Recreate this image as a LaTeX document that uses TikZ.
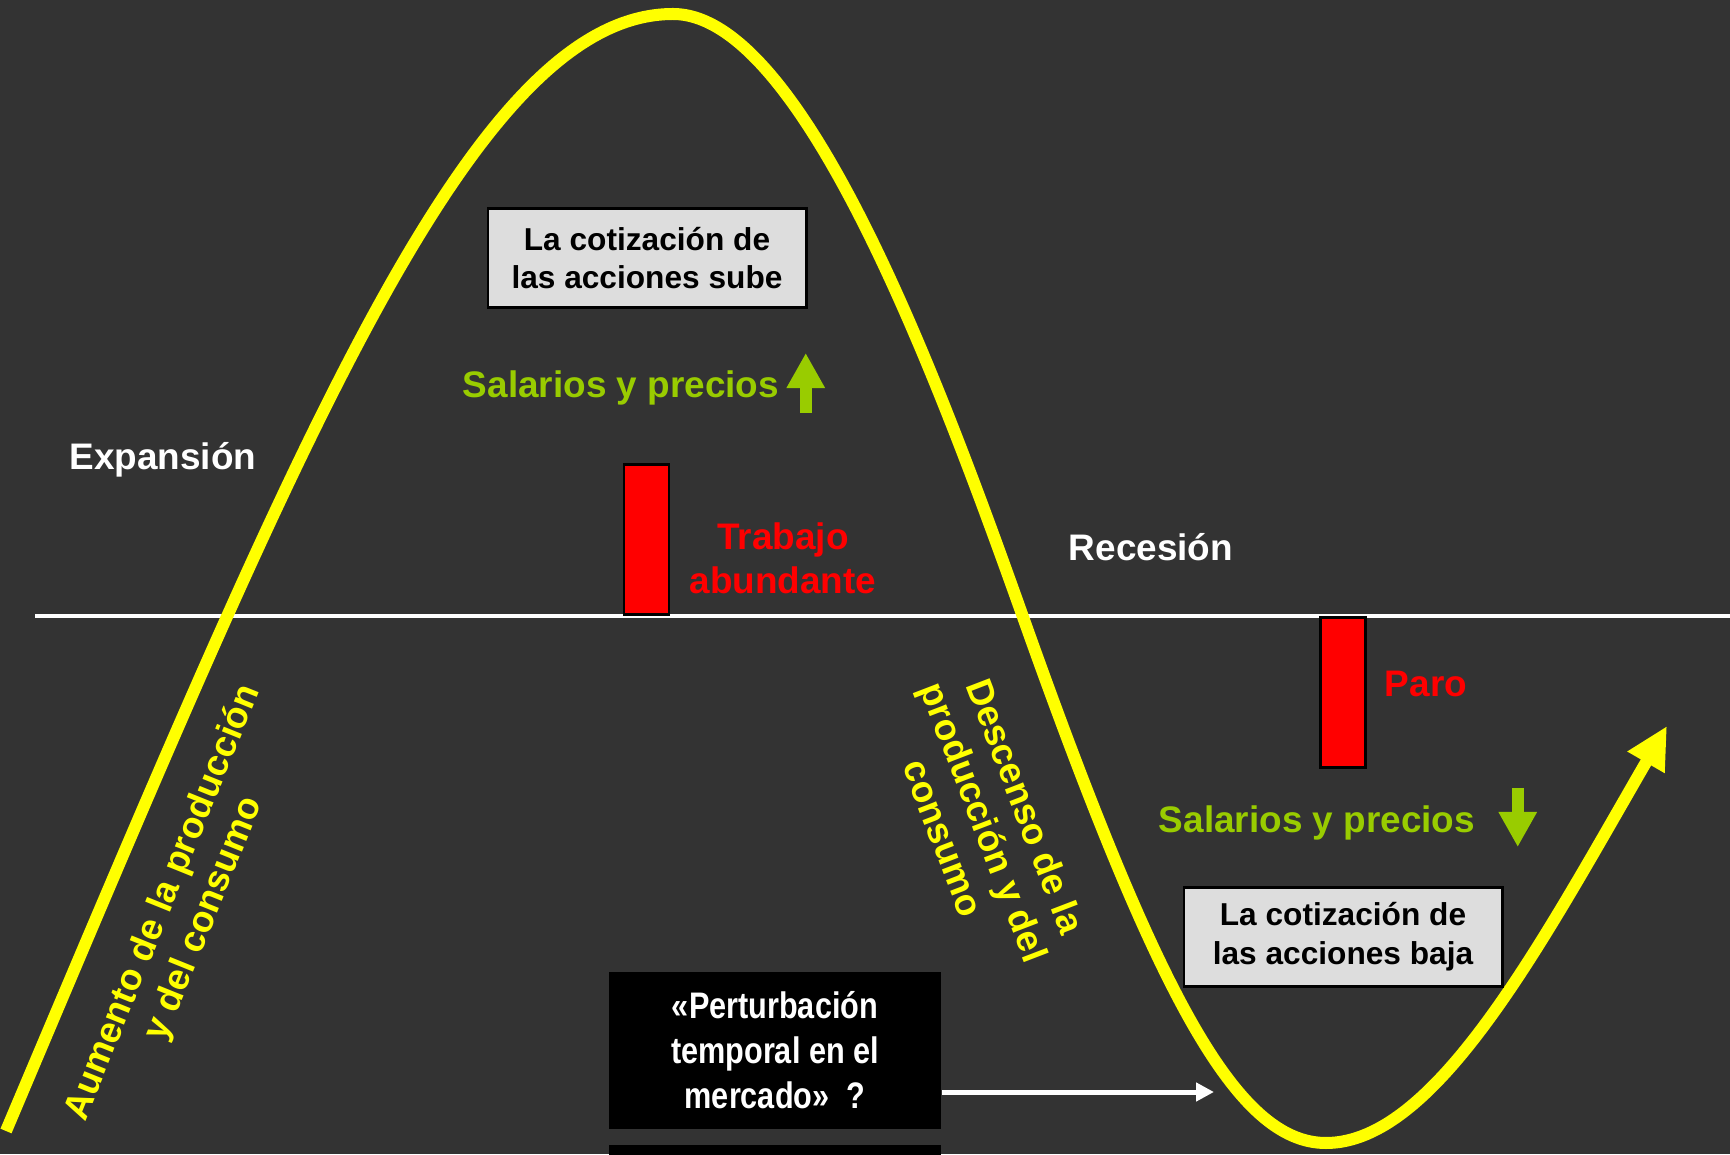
\documentclass[tikz,border=0pt]{standalone}
\usepackage{fontspec}
\setmainfont{Liberation Sans}
\newfontfamily\narrowfont{Liberation Sans}[FakeStretch=0.83]
\usepackage{tikz}
\usetikzlibrary{arrows.meta, positioning, calc}

\definecolor{bgdark}{HTML}{333333}
\definecolor{cycleyellow}{HTML}{FFFF00}
\definecolor{salgreen}{HTML}{99CC00}
\definecolor{boxgrey}{HTML}{DDDDDD}

\begin{document}
\begin{tikzpicture}[x=0.01cm, y=0.01cm,
    label/.style={font=\fontsize{10.5}{12.5}\selectfont\bfseries, align=center, inner sep=0pt},
    pricebox/.style={draw=black, line width=0.8pt, fill=boxgrey, minimum width=3.18cm,
        minimum height=0.99cm, inner sep=0pt, align=center, font=\fontsize{9}{11}\selectfont\bfseries},
    bar/.style={draw=black, line width=0.8pt, fill=red, minimum width=0.45cm,
        minimum height=1.5cm, inner sep=0pt},
    blackbox/.style={fill=black, minimum width=3.32cm, inner sep=0pt, text=white, align=center,
        font=\fontsize{10.5}{12.8}\selectfont\narrowfont\bfseries},
    greenarrow/.style={salgreen, line width=0.12cm, -{Triangle[length=0.35cm, width=0.36cm]}}]

    % Background
    \fill[bgdark] (0,0) rectangle (1730,1154);
    \useasboundingbox (0,0) rectangle (1730,1154);

    % Axis
    \draw[white, line width=0.045cm] (35,538) -- (1730,538);

    % Economic cycle
    \draw[cycleyellow, line width=0.12cm, -{Triangle[length=0.42cm, width=0.4cm]}]
        (6,23) .. controls (298,713) and (473,1140) .. (673,1140)
        .. controls (803,1140) and (939,773) .. (1023,537)
        .. controls (1157,160) and (1236,11) .. (1326,11)
        .. controls (1436,11) and (1542,212) .. (1667,428);

    % Expansion side
    \node[pricebox] (sube) at (647,896) {La cotización de\\las acciones sube};
    \node[label, salgreen, anchor=base] (salup) at (621,756) {Salarios y precios};
    \draw[greenarrow] ($(salup.base east)+(26,-15)$) -- ++(0,60);
    \node[label, white, anchor=base] (expansion) at (163,684) {Expansión};
    \node[bar, anchor=south] (bartop) at (646.5,538) {};
    \node[label, red] (trabajo) at (783,596) {Trabajo\\abundante};
    \node[label, cycleyellow, rotate=68] (aumento) at (184,243) {Aumento de la producción\\y del consumo};

    % Recession side
    \node[label, white, anchor=base] (recesion) at (1151,593) {Recesión};
    \node[bar, anchor=north] (barbottom) at (1343,538) {};
    \node[label, red, anchor=base] (paro) at (1426,457) {Paro};
    \node[label, salgreen, anchor=base] (saldown) at (1317,321) {Salarios y precios};
    \draw[greenarrow] ($(saldown.base east)+(42,45)$) -- ++(0,-59);
    \node[pricebox] (baja) at (1343,217) {La cotización de\\las acciones baja};
    \node[label, cycleyellow, rotate=-69] (descenso) at (985,332) {Descenso de la\\producción y del\\consumo};

    % Disturbance
    \node[blackbox, minimum height=1.57cm] (pert) at (775,103.5) {«Perturbación\\temporal en el\\mercado»\ \ ?};
    \node[blackbox, minimum height=0.1cm, anchor=north] (pertnext) at ([yshift=-0.15cm]pert.south) {};
    \coordinate (dip) at (1214,62);
    \draw[white, line width=0.05cm, -{Triangle[length=0.18cm, width=0.18cm]}] (pert.east |- dip) -- (dip);
\end{tikzpicture}
\end{document}
